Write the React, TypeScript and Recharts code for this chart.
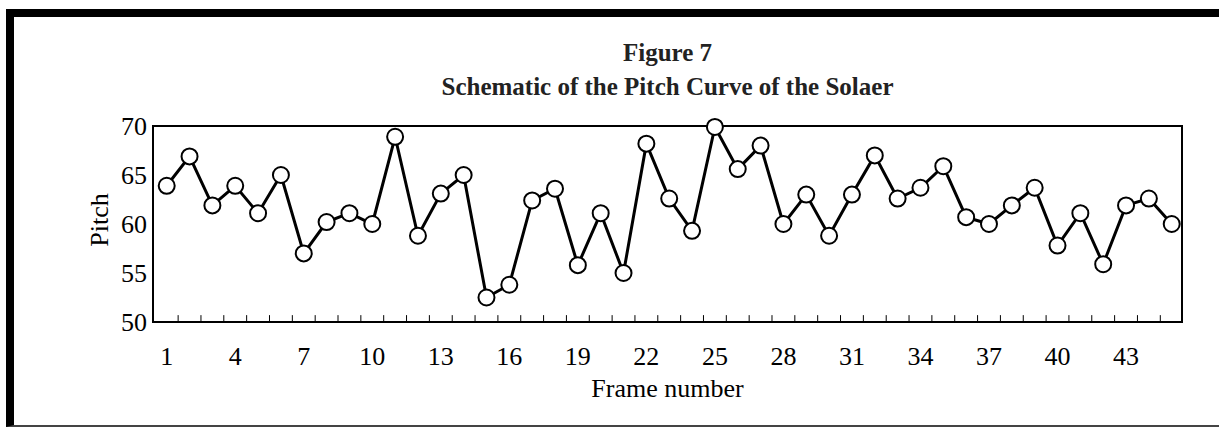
import { LineChart, Line, XAxis, YAxis, ReferenceArea, ReferenceLine } from "recharts";

const frames: number[] = Array.from({ length: 45 }, (_, i) => i + 1);

const pitch: number[] = [
  63.9, 66.9, 61.9, 63.9, 61.1, 65.0, 57.0, 60.2, 61.1, 60.0,
  68.9, 58.8, 63.1, 65.0, 52.5, 53.8, 62.4, 63.6, 55.8, 61.1,
  55.0, 68.2, 62.6, 59.3, 69.9, 65.6, 68.0, 60.0, 63.0, 58.8,
  63.0, 67.0, 62.6, 63.7, 65.9, 60.7, 60.0, 61.9, 63.7, 57.8,
  61.1, 55.9, 61.9, 62.6, 60.0,
];

const xLabelTicks: number[] = [1, 4, 7, 10, 13, 16, 19, 22, 25, 28, 31, 34, 37, 40, 43];
const xMinorTicks: number[] = frames.slice(0, 44).map((f) => f + 0.5);
const yTicks: number[] = [50, 55, 60, 65, 70];

const data = frames.map((f, i) => ({ frame: f, pitch: pitch[i] }));

const serif = "'Liberation Serif', 'Times New Roman', serif";
const xDomain: [number, number] = [0.4, 45.45];
const yDomain: [number, number] = [50, 70];
// inward tick length, in pitch units (about 7px)
const minorLen = 0.7;

const App = () => {
  return (
    <div style={{ position: "absolute", left: 0, top: 0, width: 1219, height: 427, background: "#fff", fontFamily: serif }}>
      <div
        style={{
          position: "absolute",
          left: 6,
          top: 9,
          width: 1213,
          height: 418,
          boxSizing: "border-box",
          borderTop: "8px solid #000",
          borderLeft: "8px solid #000",
          borderBottom: "2px solid #444",
        }}
      />
      <div style={{ position: "absolute", left: 153, width: 1029, top: 36, textAlign: "center", fontSize: 25, fontWeight: 700, lineHeight: "34px", color: "#222" }}>
        <div>Figure 7</div>
        <div>Schematic of the Pitch Curve of the Solaer</div>
      </div>
      <div style={{ position: "absolute", left: 60, top: 205, width: 80, textAlign: "center", fontSize: 26, lineHeight: "30px", transform: "rotate(-90deg)" }}>
        Pitch
      </div>
      <div style={{ position: "absolute", left: 153, width: 1029, top: 374, textAlign: "center", fontSize: 26, lineHeight: "30px" }}>
        Frame number
      </div>
      <div style={{ position: "absolute", left: 0, top: 0 }}>
        <LineChart width={1219} height={427} data={data} margin={{ top: 126, right: 37, bottom: 0, left: 0 }}>
          <XAxis
            dataKey="frame"
            type="number"
            domain={xDomain}
            ticks={xLabelTicks}
            interval={0}
            height={105}
            tickLine={false}
            tickSize={0}
            tickMargin={25}
            axisLine={{ stroke: "#000", strokeWidth: 2 }}
            tick={{ fontSize: 26, fill: "#000", fontFamily: serif }}
          />
          <YAxis
            domain={yDomain}
            ticks={yTicks}
            interval={0}
            width={153}
            axisLine={false}
            tickLine={false}
            tickSize={0}
            tickMargin={6}
            tick={{ fontSize: 26, fill: "#000", fontFamily: serif }}
          />
          <ReferenceArea x1={xDomain[0]} x2={xDomain[1]} y1={yDomain[0]} y2={yDomain[1]} fill="none" stroke="#000" strokeWidth={2} />
          {xMinorTicks.map((t) => (
            <ReferenceLine
              key={t}
              segment={[
                { x: t, y: yDomain[0] },
                { x: t, y: yDomain[0] + minorLen },
              ]}
              stroke="#000"
              strokeWidth={1}
            />
          ))}
          <Line
            type="linear"
            dataKey="pitch"
            stroke="#000"
            strokeWidth={3}
            dot={{ r: 8, fill: "#fff", stroke: "#000", strokeWidth: 2 }}
            isAnimationActive={false}
          />
        </LineChart>
      </div>
    </div>
  );
};

export default App;
